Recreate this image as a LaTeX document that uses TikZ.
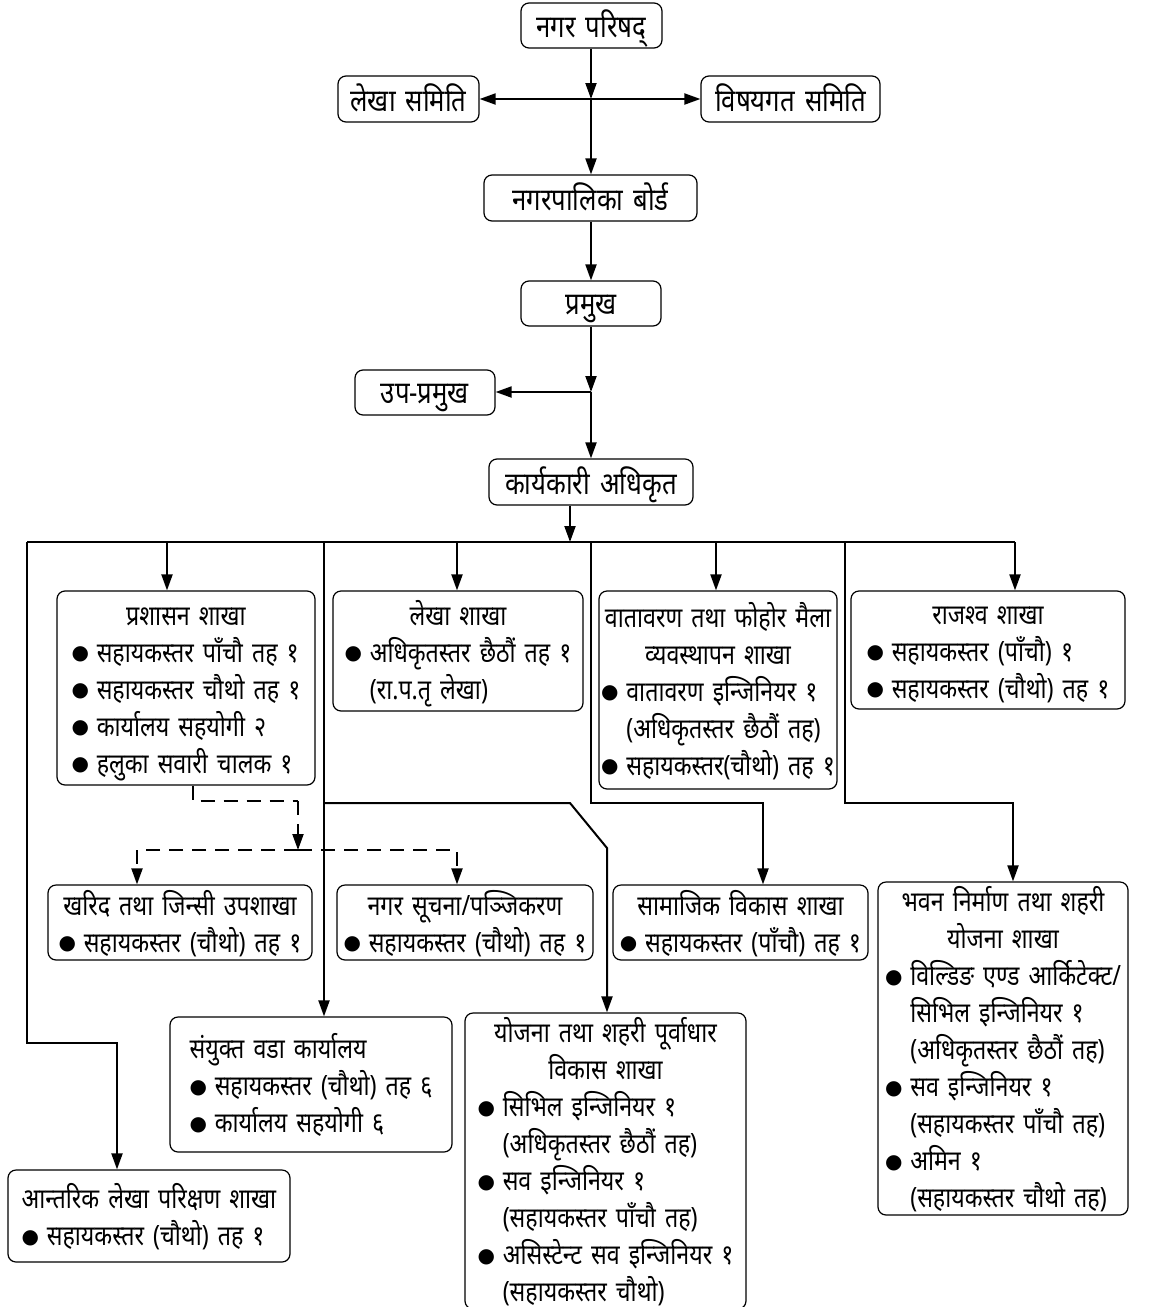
\documentclass[tikz,border=0pt]{standalone}
\usepackage{fontspec}
\setmainfont[Script=Devanagari, FakeStretch=0.83, WordSpace=1.5]{Noto Sans}
\newfontfamily\dotfont{DejaVu Sans}
\usetikzlibrary{arrows.meta}

% bullet, hanging indent and centred title line for the lists
\newcommand{\bu}{\hbox to 0.9em{\raise1.4pt\hbox{\dotfont\fontsize{10pt}{10pt}\selectfont ●}\hss}}
\newcommand{\hi}{\hskip0.9em\relax}
\newcommand{\ti}[1]{\multicolumn{1}{@{}c@{}}{#1}}

\begin{document}
\begin{tikzpicture}[x=0.5pt, y=-0.5pt,
    box/.style={draw, rounded corners=4pt, line width=0.6pt, inner sep=0pt,
      font=\fontsize{14pt}{18.5pt}\selectfont},
    topbox/.style={box, font=\fontsize{15.5pt}{18.5pt}\selectfont},
    conn/.style={line width=1pt},
    arr/.style={conn, -{Triangle[length=8pt, width=5.5pt]}},
    dsh/.style={conn, line width=1.2pt, dash pattern=on 7pt off 4.5pt}]

    \useasboundingbox (0,0) rectangle (1148,1307);

    % Define a macro to draw a box from its top left and bottom right corner (in pixels)
    \def\orgbox#1#2#3#4#5#6#7{% #1 = style, #2 = name, (#3,#4) = top left, (#5,#6) = bottom right, #7 = rows
      \pgfmathsetmacro{\cx}{(#3+#5)/2}
      \pgfmathsetmacro{\cy}{(#4+#6)/2}
      \pgfmathsetmacro{\bw}{(#5-#3)/2}
      \pgfmathsetmacro{\bh}{(#6-#4)/2}
      \node[#1, minimum width=\bw pt, minimum height=\bh pt] (#2) at (\cx,\cy)
        {\raisebox{-2pt}[\height][\depth]{\begin{tabular}{@{}l@{}}#7\end{tabular}}};
    }

    % Upper chain
    \orgbox{topbox}{np}{521}{3}{662}{48}{नगर परिषद्}
    \orgbox{topbox}{ls}{338}{76}{479}{122}{लेखा समिति}
    \orgbox{topbox}{vs}{701}{76}{880}{122}{विषयगत समिति}
    \orgbox{topbox}{nb}{484}{175}{697}{221}{नगरपालिका बोर्ड}
    \orgbox{topbox}{pm}{521}{281}{661}{326}{प्रमुख}
    \orgbox{topbox}{up}{355}{370}{495}{415}{उप-प्रमुख}
    \orgbox{topbox}{ka}{489}{459}{693}{505}{कार्यकारी अधिकृत}

    % First row of branches
    \orgbox{box}{pr}{57}{591}{315}{785}{\ti{प्रशासन शाखा}\\
      \bu सहायकस्तर पाँचौ तह १\\
      \bu सहायकस्तर चौथो तह १\\
      \bu कार्यालय सहयोगी २\\
      \bu हलुका सवारी चालक १}
    \orgbox{box}{lk}{333}{591}{583}{711}{\ti{लेखा शाखा}\\
      \bu अधिकृतस्तर छैठौं तह १\\
      \hi (रा.प.तृ लेखा)}
    \orgbox{box}{vt}{599}{591}{837}{789}{\ti{वातावरण तथा फोहोर मैला}\\
      \ti{व्यवस्थापन शाखा}\\
      \bu वातावरण इन्जिनियर १\\
      \hi (अधिकृतस्तर छैठौं तह)\\
      \bu सहायकस्तर(चौथो) तह १}
    \orgbox{box}{rj}{851}{591}{1125}{709}{\ti{राजश्व शाखा}\\
      \bu सहायकस्तर (पाँचौ) १\\
      \bu सहायकस्तर (चौथो) तह १}

    % Second row of branches
    \orgbox{box}{kh}{48}{885}{312}{960}{\ti{खरिद तथा जिन्सी उपशाखा}\\
      \bu सहायकस्तर (चौथो) तह १}
    \orgbox{box}{ns}{337}{885}{593}{960}{\ti{नगर सूचना/पञ्जिकरण}\\
      \bu सहायकस्तर (चौथो) तह १}
    \orgbox{box}{sm}{613}{885}{868}{960}{\ti{सामाजिक विकास शाखा}\\
      \bu सहायकस्तर (पाँचौ) तह १}
    \orgbox{box}{bh}{878}{885}{1128}{1212}{\ti{भवन निर्माण तथा शहरी}\\
      \ti{योजना शाखा}\\
      \bu विल्डिङ एण्ड आर्किटेक्ट/\\
      \hi सिभिल इन्जिनियर १\\
      \hi (अधिकृतस्तर छैठौं तह)\\
      \bu सव इन्जिनियर १\\
      \hi (सहायकस्तर पाँचौ तह)\\
      \bu अमिन १\\
      \hi (सहायकस्तर चौथो तह)}

    % Lower boxes
    \orgbox{box}{sv}{170}{1017}{452}{1152}{संयुक्त वडा कार्यालय\\
      \bu सहायकस्तर (चौथो) तह ६\\
      \bu कार्यालय सहयोगी ६}
    \orgbox{box}{yo}{465}{1017}{746}{1305}{\ti{योजना तथा शहरी पूर्वाधार}\\
      \ti{विकास शाखा}\\
      \bu सिभिल इन्जिनियर १\\
      \hi (अधिकृतस्तर छैठौं तह)\\
      \bu सव इन्जिनियर १\\
      \hi (सहायकस्तर पाँचौ तह)\\
      \bu असिस्टेन्ट सव इन्जिनियर १\\
      \hi (सहायकस्तर चौथो)}
    \orgbox{box}{al}{8}{1170}{290}{1262}{आन्तरिक लेखा परिक्षण शाखा\\
      \bu सहायकस्तर (चौथो) तह १}

    % Junctions, bus and bends
    \coordinate (j1) at (591,99);
    \coordinate (j2) at (591,392);
    \coordinate (busL) at (27,542);
    \coordinate (dPr) at (167,542);
    \coordinate (dSv) at (324,542);
    \coordinate (dLk) at (457,542);
    \coordinate (dKa) at (570,542);
    \coordinate (dSm) at (591,542);
    \coordinate (dVt) at (716,542);
    \coordinate (dBh) at (845,542);
    \coordinate (busR) at (1015,542);
    \coordinate (alBend) at (117,1043);
    \coordinate (yoA) at (570,803);
    \coordinate (yoB) at (607,848);
    \coordinate (smBend) at (763,803);
    \coordinate (bhBend) at (1013,803);
    \coordinate (dsA) at (193,801);
    \coordinate (dsB) at (298,801);
    \coordinate (dsC) at (298,850);
    \coordinate (dsL) at (137,850);
    \coordinate (dsR) at (457,850);

    % Upper chain connectors
    \draw[arr] (np.south -| j1) -- (j1);
    \draw[arr] (j1) -- (ls.east |- j1);
    \draw[arr] (j1) -- (vs.west |- j1);
    \draw[arr] (j1) -- (nb.north -| j1);
    \draw[arr] (nb.south -| j1) -- (pm.north -| j1);
    \draw[arr] (pm.south -| j2) -- (j2);
    \draw[arr] (j2) -- (up.east |- j2);
    \draw[arr] (j2) -- (ka.north -| j2);
    \draw[arr] (ka.south -| dKa) -- (dKa);

    % Bus and drops
    \draw[line width=1.4pt] (busL) -- (busR);
    \draw[arr] (busL) |- (alBend) -- (al.north -| alBend);
    \draw[arr] (dPr) -- (pr.north -| dPr);
    \draw[arr] (dSv) -- (sv.north -| dSv);
    \draw[arr] (dSv |- yoA) -- (yoA) -- (yoB) -- (yo.north -| yoB);
    \draw[arr] (dLk) -- (lk.north -| dLk);
    \draw[arr] (dSm) |- (smBend) -- (sm.north -| smBend);
    \draw[arr] (dVt) -- (vt.north -| dVt);
    \draw[arr] (dBh) |- (bhBend) -- (bh.north -| bhBend);
    \draw[arr] (busR) -- (rj.north -| busR);

    % Dashed links to the sub-branches
    \draw[dsh] (pr.south -| dsA) -- (dsA) -- (dsB);
    \draw[dsh, arr] (dsB) -- (dsC);
    \draw[dsh, arr] (dsC) -| (kh.north -| dsL);
    \draw[dsh, arr] (dsC) -| (ns.north -| dsR);
\end{tikzpicture}
\end{document}
